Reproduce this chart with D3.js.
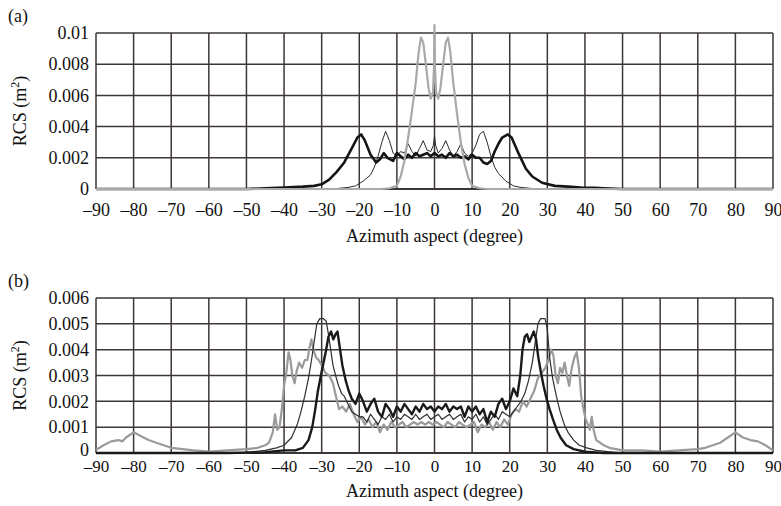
<!DOCTYPE html>
<html><head><meta charset="utf-8">
<script src="https://cdn.jsdelivr.net/npm/d3@7"></script>
<style>
body{margin:0;background:#fff;}
svg text{font-family:'Liberation Serif','Times New Roman',Tinos,'DejaVu Serif',serif !important;fill:#111;}
</style></head>
<body><svg id="c" width="781" height="506"></svg>
<script>
// ---------- DATA ----------
const xTicks = [-90,-80,-70,-60,-50,-40,-30,-20,-10,0,10,20,30,40,50,60,70,80,90];
const yTicksA = [0,0.002,0.004,0.006,0.008,0.01];
const yTicksB = [0,0.001,0.002,0.003,0.004,0.005,0.006];

// Panel (a) thick black
const aThickX = [-90,-50,-45,-40,-35,-32,-30,-28,-26,-24,-22,-20.5,-19.5,-18.5,-17,-15.5,-14.5,-13.5,-12.5,-11,-10,-9,-8,-7,-6,-5,-4,-3,-2,-1,0,1,2,3,4,5,6,7,8,9,10,11,12,13,14,15,16,17,18,19.5,20.5,22.5,24.3,26,28.6,32,35.5,39,42.5,45,50,90];
const aThickY = [0,0,0.00005,0.0001,0.00015,0.0002,0.0003,0.0006,0.0011,0.0017,0.0026,0.0033,0.0035,0.0031,0.0022,0.0017,0.0019,0.0023,0.0020,0.0018,0.0023,0.0021,0.0019,0.0022,0.0020,0.0023,0.0021,0.0022,0.0023,0.0021,0.0023,0.0021,0.0022,0.0020,0.0023,0.0021,0.0022,0.0020,0.0021,0.0019,0.0022,0.0020,0.0020,0.0017,0.0016,0.0018,0.0024,0.0029,0.0033,0.0035,0.0033,0.0022,0.0013,0.0008,0.0004,0.0002,0.00015,0.0001,0.00007,0.00004,0,0];
// Panel (a) thin black
const aThinX = [-90,-30,-26,-23,-21,-19,-17,-16,-15,-14,-13,-12,-11,-10,-9,-8,-7,-6,-5,-4,-3,-2,-1,-0.3,0,0.3,1,2,3,4,5,6,7,8,9,10,11,12,13,14,15,16,17,19,21,23,26,30,90];
const aThinY = [0,0,0.00003,0.0001,0.0002,0.0005,0.0009,0.0014,0.0021,0.0030,0.0037,0.0031,0.0023,0.0021,0.0024,0.0023,0.0029,0.0024,0.0021,0.0026,0.0031,0.0025,0.0024,0.0028,0.0034,0.0028,0.0023,0.0026,0.0031,0.0025,0.0021,0.0024,0.0029,0.0023,0.0021,0.0023,0.0028,0.0035,0.0037,0.0030,0.0021,0.0014,0.0010,0.0005,0.0002,0.0001,0.00003,0,0];
// Panel (a) light grey
const aGreyX = [-90,-14,-12,-10,-9,-8,-7,-6,-5,-4.2,-3.6,-3,-2.3,-1.6,-1,-0.4,-0.1,0,0.1,0.4,1,1.6,2.3,3,3.6,4.2,5,6,7,8,9,10,12,14,90];
const aGreyY = [0,0,0.00005,0.0002,0.0008,0.0018,0.0033,0.0050,0.0068,0.0088,0.0097,0.0094,0.0080,0.0065,0.0058,0.0062,0.0080,0.0105,0.0080,0.0062,0.0058,0.0065,0.0080,0.0094,0.0097,0.0088,0.0068,0.0048,0.0030,0.0016,0.0007,0.0002,0.00005,0,0];

// Panel (b) grey
const bGreyX = [-90,-88,-86,-84,-83,-82,-80,-78,-76,-74,-72,-70,-67,-64,-60,-55,-50,-47,-45,-44,-43,-42.4,-41.8,-41.2,-40.6,-40,-39.4,-38.8,-38.3,-37.8,-37.2,-36.6,-36,-35.2,-34.5,-33.8,-33.2,-32.7,-32.2,-31.5,-30.8,-30,-29,-28,-27,-26.2,-25.4,-24.5,-23.5,-22.5,-21.5,-20.5,-19.5,-18.5,-17.5,-16.5,-15.5,-14.5,-13.5,-12.5,-11.5,-10.5,-9.5,-8.5,-7.5,-6.5,-5.5,-4.5,-3.5,-2.5,-1.5,-0.5,0.5,1.5,2.5,3.5,4.5,5.5,6.5,7.5,8.5,9.5,10.5,11.5,12.5,13.5,14.5,15.5,16.5,17.5,18.5,19.5,20.5,21.5,22.5,23.5,24.5,25.5,26.5,27.5,28.5,29.5,30.3,31,31.6,32.2,32.8,33.4,34,34.6,35.2,35.8,36.5,37.2,37.8,38.4,39,39.6,40.2,40.8,41.3,41.8,42.3,43,44,45,46.5,50,55,60,65,70,72,74,76,78,80,82,84,86,88,90];
const bGreyY = [0.00012,0.0003,0.00045,0.0005,0.00045,0.0006,0.0008,0.00065,0.0005,0.0004,0.0003,0.0002,0.00015,0.0001,0.00005,0.0001,0.00015,0.0002,0.0003,0.0004,0.0008,0.0015,0.0009,0.0010,0.0017,0.0026,0.0031,0.0039,0.0036,0.0030,0.0027,0.0032,0.0035,0.0033,0.0036,0.0036,0.0041,0.0044,0.0040,0.0037,0.0036,0.0034,0.0031,0.0030,0.0027,0.0022,0.0017,0.0018,0.0016,0.0019,0.0015,0.0012,0.0014,0.0011,0.0013,0.0010,0.0012,0.0008,0.0011,0.0009,0.0012,0.0010,0.0011,0.0012,0.0010,0.0011,0.0012,0.0011,0.0012,0.0011,0.0012,0.0011,0.0012,0.0011,0.0010,0.0012,0.0011,0.0010,0.0012,0.0011,0.0010,0.0011,0.0012,0.0008,0.0011,0.0010,0.0012,0.0009,0.0012,0.0010,0.0013,0.0011,0.0015,0.0017,0.0016,0.0020,0.0018,0.0021,0.0024,0.0029,0.0031,0.0033,0.0036,0.0040,0.0038,0.0030,0.0027,0.0033,0.0031,0.0035,0.0030,0.0026,0.0033,0.0037,0.0039,0.0033,0.0022,0.0017,0.0013,0.0011,0.0009,0.0014,0.0009,0.0005,0.0004,0.0003,0.0002,0.0001,0.0001,0.00005,0.0001,0.00015,0.0002,0.0003,0.0004,0.0006,0.0008,0.0006,0.0005,0.00045,0.0003,0.0001];
// Panel (b) thin dark
const bThinX = [-90,-60,-50,-45,-42,-40,-38,-36.5,-35.5,-34.5,-33.5,-32.7,-32,-31.3,-30.5,-29.5,-28.8,-28.2,-27.6,-27,-26.3,-25.5,-24.7,-24,-23,-22,-21,-20,-19,-18,-17,-16,-15,-14,-13,-12,-11,-10,-9,-8,-7,-6,-5,-4,-3,-2,-1,0,1,2,3,4,5,6,7,8,9,10,11,12,13,14,15,16,17,18,19,20,21,22,23,24,25,26,26.8,27.5,28.2,29.4,30,30.6,31.4,32.4,33.4,34.5,35.5,37,38.5,40.5,43,46,50,90];
const bThinY = [0,0,0.00003,0.0001,0.0002,0.0003,0.0006,0.0011,0.0016,0.0022,0.0029,0.0036,0.0043,0.0050,0.0052,0.0052,0.0051,0.0046,0.0040,0.0034,0.0030,0.0026,0.0023,0.0022,0.0019,0.0016,0.0015,0.0014,0.0014,0.0012,0.0015,0.0013,0.0011,0.0014,0.0013,0.0015,0.0012,0.0014,0.0013,0.0015,0.0014,0.0013,0.0015,0.0013,0.0014,0.0015,0.0013,0.0014,0.0015,0.0013,0.0014,0.0015,0.0013,0.0014,0.0015,0.0012,0.0014,0.0013,0.0015,0.0012,0.0014,0.0011,0.0013,0.0015,0.0013,0.0016,0.0015,0.0014,0.0016,0.0018,0.0020,0.0023,0.0028,0.0035,0.0043,0.0050,0.0052,0.0052,0.0048,0.0037,0.0029,0.0022,0.0016,0.0011,0.0008,0.0005,0.0003,0.0002,0.0001,0.00005,0,0];
// Panel (b) thick black
const bThickX = [-90,-55,-45,-40,-37,-35,-33.5,-32.5,-31.7,-31,-30.2,-29.5,-28.8,-28.2,-27.5,-26.9,-26.3,-25.8,-25.2,-24.5,-23.6,-22.8,-22,-21,-20,-19,-18,-17,-16,-15,-14,-13,-12,-11,-10,-9,-8,-7,-6,-5,-4,-3,-2,-1,0,1,2,3,4,5,6,7,8,9,10,11,12,13,14,15,16,17,18,19,20,21,22,22.8,23.4,24,24.6,25.2,25.8,26.4,27,27.6,28.2,29,29.8,30.6,31.5,32.5,33.5,35,37,40,45,90];
const bThickY = [0,0,0.00003,0.0001,0.0001,0.0002,0.0005,0.0010,0.0017,0.0024,0.0030,0.0035,0.0040,0.0045,0.0047,0.0044,0.0046,0.0047,0.0041,0.0034,0.0028,0.0024,0.0021,0.0019,0.0023,0.0020,0.0016,0.0019,0.0021,0.0016,0.0014,0.0019,0.0017,0.0014,0.0018,0.0016,0.0019,0.0017,0.0015,0.0018,0.0016,0.0019,0.0017,0.0018,0.0016,0.0018,0.0017,0.0019,0.0016,0.0018,0.0017,0.0018,0.0014,0.0018,0.0016,0.0018,0.0015,0.0017,0.0012,0.0016,0.0014,0.0019,0.0021,0.0017,0.0020,0.0025,0.0022,0.0030,0.0040,0.0045,0.0046,0.0043,0.0045,0.0047,0.0044,0.0037,0.0032,0.0026,0.0021,0.0017,0.0013,0.0009,0.0006,0.0003,0.00015,0.00005,0,0];

// ---------- DRAW ----------
const FONT = "'Liberation Serif','Times New Roman',Tinos,'DejaVu Serif',serif";
const svg = d3.select("#c");
const L = 96, R = 773;
const gridColor = "#3d3636";

function panel(cfg){
  const x = d3.scaleLinear().domain([-90,90]).range([L,R]);
  const y = d3.scaleLinear().domain([0,cfg.ymax]).range([cfg.bottom,cfg.top]);
  const g = svg.append("g");
  g.selectAll(".vg").data(xTicks).join("line")
    .attr("x1",d=>x(d)).attr("x2",d=>x(d)).attr("y1",cfg.top).attr("y2",cfg.bottom)
    .attr("stroke",gridColor).attr("stroke-width",1.5);
  g.selectAll(".hg").data(cfg.yTicks).join("line")
    .attr("x1",L).attr("x2",R).attr("y1",d=>y(d)).attr("y2",d=>y(d))
    .attr("stroke",gridColor).attr("stroke-width",d=>d===0?2.2:1.5);
  cfg.series.forEach(s=>{
    const pts = s.x.map((d,i)=>[d,s.y[i]]);
    g.append("path").datum(pts)
      .attr("d", d3.line().x(d=>x(d[0])).y(d=>y(d[1])))
      .attr("fill","none").attr("stroke",s.color).attr("stroke-width",s.w)
      .attr("stroke-linejoin","round");
  });
  const xa = g.append("g").attr("transform",`translate(0,${cfg.bottom})`)
    .call(d3.axisBottom(x).tickValues(xTicks).tickSize(0).tickPadding(cfg.xpad)
      .tickFormat(d=> d<0 ? "\u2013"+Math.abs(d) : String(d)));
  xa.attr("font-family",FONT);
  xa.select(".domain").remove();
  xa.selectAll("text").attr("font-family",FONT).style("font-size",cfg.xfs+"px").attr("fill","#111");
  const ya = g.append("g").attr("transform",`translate(${L},0)`)
    .call(d3.axisLeft(y).tickValues(cfg.yTicks).tickSize(0).tickPadding(7)
      .tickFormat(d=> d===0 ? "0" : d3.format("")(d)));
  ya.attr("font-family",FONT);
  ya.select(".domain").remove();
  ya.selectAll("text").attr("font-family",FONT).style("font-size","18px").attr("fill","#111");
  if (cfg.zeroDy) ya.selectAll(".tick").filter(d=>d===0).select("text").attr("dy",cfg.zeroDy);
  svg.append("text").attr("x",8).attr("y",cfg.labelY).attr("font-family",FONT).style("font-size","18px").text(cfg.label);
  svg.append("text").attr("x",(L+R)/2).attr("y",cfg.titleY).attr("text-anchor","middle")
    .attr("font-family",FONT).style("font-size","18px").text("Azimuth aspect (degree)");
  const yt = svg.append("text").attr("transform",`translate(26,${(cfg.top+cfg.bottom)/2}) rotate(-90)`)
    .attr("text-anchor","middle").attr("font-family",FONT).style("font-size","18px");
  yt.append("tspan").text("RCS (m");
  yt.append("tspan").attr("dy",-7).style("font-size","12px").text("2");
  yt.append("tspan").attr("dy",7).text(")");
}

panel({top:33,bottom:189,ymax:0.01,yTicks:yTicksA,xpad:14,xfs:18,label:"(a)",labelY:22,titleY:242,zeroDy:null,
  series:[
    {x:aThinX,y:aThinY,color:"#2b2b2b",w:1},
    {x:aThickX,y:aThickY,color:"#151515",w:2.6},
    {x:aGreyX,y:aGreyY,color:"#a9a9a9",w:2.2}
  ]});
panel({top:298,bottom:453,ymax:0.006,yTicks:yTicksB,xpad:7,xfs:17,label:"(b)",labelY:287,titleY:497,zeroDy:"0.15em",
  series:[
    {x:bGreyX,y:bGreyY,color:"#9a9a9a",w:2.2},
    {x:bThinX,y:bThinY,color:"#2e2e2e",w:1.2},
    {x:bThickX,y:bThickY,color:"#1a1a1a",w:2.4}
  ]});
</script></body></html>
